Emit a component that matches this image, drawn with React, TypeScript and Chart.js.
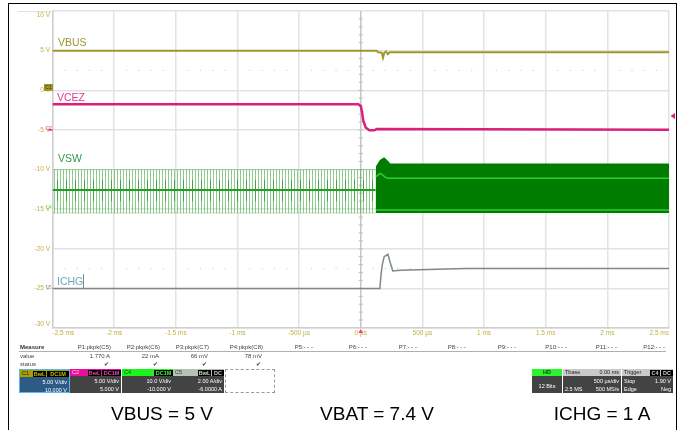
import React, { useEffect, useRef } from 'react';
import { Chart, registerables } from 'chart.js';

Chart.register(...registerables);

const FF = '"Liberation Sans", Arial, sans-serif';

// ---- tick labels ----
const xTickLabels = ['-2.5 ms', '-2 ms', '-1.5 ms', '-1 ms', '-500 µs', '0 µs', '500 µs', '1 ms', '1.5 ms', '2 ms', '2.5 ms'];
const yTickLabels = ['-30 V', '-25 V', '-20 V', '-15 V', '-10 V', '-5 V', '0 V', '5 V', '10 V'];

// ---- traces (time in ms, value in screen volts) ----
const vbusTime = [-2.5, 0.13, 0.14, 0.17, 0.18, 0.19, 0.205, 0.22, 0.235, 2.5];
const vbusValues = [5.0, 5.0, 4.8, 4.75, 4.1, 4.7, 4.9, 4.55, 4.8, 4.8];

const vcezTime = [-2.5, -0.02, 0.0, 0.01, 0.02, 0.04, 0.07, 0.11, 0.13, 2.5];
const vcezValues = [-1.77, -1.77, -2.0, -2.7, -3.8, -4.7, -5.05, -5.05, -4.9, -4.98];

const ichgTime = [-2.5, 0.155, 0.165, 0.175, 0.19, 0.22, 0.24, 0.26, 0.32, 0.85, 2.5];
const ichgValues = [-25.0, -25.0, -23.2, -22.0, -21.0, -20.7, -21.8, -22.8, -22.7, -22.5, -22.5];

// VSW before the burst: switching envelope, core and baseline
const vswPreTime = [-2.5, 0.12];
const vswPreHigh = [-10.0, -10.0];
const vswPreLow = [-15.5, -15.5];
const vswPreCoreHigh = [-11.3, -11.3];
const vswPreCoreLow = [-14.0, -14.0];
const vswPreBase = [-12.6, -12.6];

// VSW burst envelope
const vswBurstTime = [0.123, 0.155, 0.19, 0.22, 0.24, 2.5];
const vswBurstHigh = [-9.6, -8.8, -8.45, -8.9, -9.25, -9.25];
const vswBurstLow = [-15.5, -15.5, -15.5, -15.5, -15.5, -15.5];
const vswMidTime = [0.123, 0.14, 0.155, 0.17, 0.2, 0.22, 2.5];
const vswMidValues = [-10.9, -10.7, -10.5, -10.6, -11.0, -11.1, -11.1];
const vswFloorTime = [0.123, 2.5];
const vswFloorValues = [-15.1, -15.1];

const pts = (t: number[], v: number[]) => t.map((x, i) => ({ x, y: v[i] }));

const TICK = '#c0b040';
const GRID = '#e2e2e2';

const extras = {
  id: 'extras',
  beforeDatasetsDraw(chart: any) {
    const { ctx, scales, chartArea: a } = chart;
    const x = scales.x, y = scales.y;
    ctx.save();
    ctx.fillStyle = '#d2d2d2';
    for (const lv of [2.5, -22.5]) {
      const py = y.getPixelForValue(lv);
      for (let k = -24; k <= 24; k++) {
        if (k % 5 === 0) continue;
        const px = x.getPixelForValue(k / 10);
        ctx.fillRect(px - 0.6, py - 0.6, 1.2, 1.2);
      }
    }
    const cx = x.getPixelForValue(0);
    ctx.strokeStyle = '#bcbcbc';
    ctx.lineWidth = 1;
    ctx.beginPath();
    ctx.moveTo(cx, a.top);
    ctx.lineTo(cx, a.bottom);
    for (let v = -29; v <= 9; v++) {
      const py = y.getPixelForValue(v);
      ctx.moveTo(cx - 2, py);
      ctx.lineTo(cx + 2, py);
    }
    ctx.stroke();
    ctx.restore();
  },
  afterDraw(chart: any) {
    const { ctx, scales, chartArea: a } = chart;
    const x = scales.x, y = scales.y;
    ctx.save();
    // right-side level marker
    const ry = y.getPixelForValue(-3.25);
    ctx.fillStyle = '#e0207f';
    ctx.beginPath();
    ctx.moveTo(a.right + 1.5, ry);
    ctx.lineTo(a.right + 6, ry - 3);
    ctx.lineTo(a.right + 6, ry + 3);
    ctx.closePath();
    ctx.fill();
    // trigger marker
    const cx = x.getPixelForValue(0);
    ctx.fillStyle = '#ff3d7a';
    ctx.beginPath();
    ctx.moveTo(cx, a.bottom + 1);
    ctx.lineTo(cx - 2.5, a.bottom + 5);
    ctx.lineTo(cx + 2.5, a.bottom + 5);
    ctx.closePath();
    ctx.fill();
    // C2 offset tick
    const c2y = y.getPixelForValue(-5);
    ctx.strokeStyle = '#e0207f';
    ctx.lineWidth = 1.5;
    ctx.beginPath();
    ctx.moveTo(a.left - 4, c2y);
    ctx.lineTo(a.left, c2y);
    ctx.stroke();
    ctx.restore();
  },
};

type TP = { x: number; y: number; s: number; c?: string; a?: 'l' | 'r' | 'c'; b?: boolean; children: React.ReactNode };
const Txt = ({ x, y, s, c = '#333', a = 'l', b, children }: TP) => {
  const L = Math.round(s * 1.3);
  const style: React.CSSProperties = {
    position: 'absolute', top: y - L / 2, lineHeight: L + 'px', height: L, fontSize: s, color: c,
    fontWeight: b ? 'bold' : 'normal', whiteSpace: 'nowrap', fontFamily: FF,
  };
  if (a === 'l') style.left = x;
  else if (a === 'r') style.right = 684 - x;
  else { style.left = x; style.transform = 'translateX(-50%)'; }
  return <div style={style}>{children}</div>;
};

const Tag = ({ t, c, w }: { t: string; c: string; w: number }) => (
  <span style={{ background: '#000', color: c, width: w, marginLeft: 1, height: 6, lineHeight: '6px', fontSize: 5.5, display: 'inline-block', textAlign: 'center', fontWeight: 'bold' }}>{t}</span>
);

type BP = { x: number; w: number; name: string; strip: string; nameColor: string; tags: [string, number][]; tagColor: string; l1: string; l2: string; lower: string; border?: string };
const ChBox = ({ x, w, name, strip, nameColor, tags, tagColor, l1, l2, lower, border }: BP) => (
  <div style={{ position: 'absolute', left: x, top: 369, width: w, height: 24, boxSizing: 'border-box', border: border ? '1px solid ' + border : 'none', background: lower, fontFamily: FF }}>
    <div style={{ position: 'absolute', left: 0, top: 0, right: 0, height: 7, background: strip }}>
      <span style={{ position: 'absolute', left: 2, top: 0, fontSize: 5.5, lineHeight: '7px', color: nameColor }}>{name}</span>
      <div style={{ position: 'absolute', right: 0, top: 0.5, display: 'flex' }}>
        {tags.map(([t, tw]) => <Tag key={t} t={t} c={tagColor} w={tw} />)}
      </div>
    </div>
    <div style={{ position: 'absolute', right: 2, top: 9, fontSize: 5.5, lineHeight: '7px', color: '#fff', whiteSpace: 'nowrap' }}>{l1}</div>
    <div style={{ position: 'absolute', right: 2, top: 16.5, fontSize: 5.5, lineHeight: '7px', color: '#fff', whiteSpace: 'nowrap' }}>{l2}</div>
  </div>
);

const measHeads = ['P1:pkpk(C5)', 'P2:pkpk(C6)', 'P3:pkpk(C7)', 'P4:pkpk(C8)', 'P5:- - -', 'P6:- - -', 'P7:- - -', 'P8:- - -', 'P9:- - -', 'P10:- - -', 'P11:- - -', 'P12:- - -'];
const measValues = ['1.770 A', '22 mA', '66 mV', '78 mV'];
const measRight = [111, 160, 209, 263, 313, 367, 417, 466, 516, 567, 617, 665];

export default function App() {
  const ref = useRef<HTMLCanvasElement>(null);
  useEffect(() => {
    const canvas = ref.current!;
    const mainCtx = canvas.getContext('2d')!;
    const mkPattern = (xs: number[], color: string) => {
      const c = document.createElement('canvas');
      c.width = 18; c.height = 2;
      const g = c.getContext('2d')!;
      g.fillStyle = color;
      xs.forEach((px) => g.fillRect(px, 0, 1, 2));
      return mainCtx.createPattern(c, 'repeat')!;
    };
    const preStripes = mkPattern([0, 3, 6, 9, 12, 15], 'rgba(60,172,60,0.6)');
    const coreStripes = mkPattern([3, 12], 'rgba(20,125,20,0.55)');

    const line = (label: string, t: number[], v: number[], color: string, w: number) => ({
      label, data: pts(t, v), borderColor: color, borderWidth: w, pointRadius: 0, fill: false, tension: 0,
    });
    const band = (label: string, t: number[], v: number[], bg?: any, edge?: string) => ({
      label, data: pts(t, v), borderColor: edge || 'rgba(0,0,0,0)', borderWidth: edge ? 1 : 0, pointRadius: 0,
      fill: bg ? '+1' : false, backgroundColor: bg || 'rgba(0,0,0,0)', tension: 0,
    });
    const EDGE = 'rgba(60,172,60,0.35)';

    const datasets: any[] = [
      line('VBUS', vbusTime, vbusValues, '#9d9a2a', 2),
      line('VCEZ', vcezTime, vcezValues, '#dc1f7c', 2.5),
      line('ICHG', ichgTime, ichgValues, '#7e8c7e', 1.5),
      line('VSW mid', vswMidTime, vswMidValues, '#2ecc2e', 1.5),
      line('VSW floor', vswFloorTime, vswFloorValues, '#2ecc2e', 1.5),
      line('VSW base', vswPreTime, vswPreBase, '#1f9f1f', 2),
      band('VSW burst high', vswBurstTime, vswBurstHigh, '#007d00'),
      band('VSW burst low', vswBurstTime, vswBurstLow),
      band('VSW core high', vswPreTime, vswPreCoreHigh, coreStripes),
      band('VSW core low', vswPreTime, vswPreCoreLow),
      band('VSW pre high', vswPreTime, vswPreHigh, preStripes, EDGE),
      band('VSW pre low', vswPreTime, vswPreLow, undefined, EDGE),
    ];

    const chart = new Chart(canvas, {
      type: 'line',
      data: { datasets },
      options: {
        animation: false,
        responsive: false,
        events: [],
        layout: { padding: { left: 10, top: 11, right: 15, bottom: 86 } },
        plugins: { legend: { display: false }, tooltip: { enabled: false } },
        scales: {
          x: {
            type: 'linear', min: -2.5, max: 2.5,
            afterFit: (s: any) => { s.height = 16; },
            ticks: {
              stepSize: 0.5, autoSkip: false, maxRotation: 0, align: 'inner', padding: 1.5,
              color: TICK, font: { size: 6.5, family: FF },
              callback: (_v: any, i: number) => xTickLabels[i],
            },
            grid: { color: GRID, lineWidth: 1.5, drawTicks: false },
            border: { color: '#cfcfcf', width: 1.5 },
          },
          y: {
            type: 'linear', min: -30, max: 10,
            afterFit: (s: any) => { s.width = 42.5; },
            ticks: {
              stepSize: 5, autoSkip: false, padding: 2.5,
              color: TICK, font: { size: 6.5, family: FF },
              callback: (_v: any, i: number) =>
                i === 0 ? [yTickLabels[i], ''] : i === yTickLabels.length - 1 ? ['', yTickLabels[i]] : yTickLabels[i],
            },
            grid: { color: GRID, lineWidth: 1.5, drawTicks: false },
            border: { color: '#cfcfcf', width: 1.5 },
          },
        },
      } as any,
      plugins: [extras as any],
    });
    return () => chart.destroy();
  }, []);

  return (
    <div style={{ position: 'fixed', left: 0, top: 0, width: 684, height: 430, background: '#fff', overflow: 'hidden', fontFamily: FF }}>
      <canvas ref={ref} width={684} height={430} style={{ position: 'absolute', left: 0, top: 0, width: 684, height: 430 }} />
      {/* outer frame */}
      <div style={{ position: 'absolute', left: 8, top: 2.5, width: 668.5, height: 440, border: '1.5px solid #000', boxSizing: 'border-box' }} />
      <div style={{ position: 'absolute', left: 18, top: 10.5, width: 35, height: 1, background: '#e0e0e0' }} />

      {/* trace labels */}
      <Txt x={58} y={42} s={10.5} c="#9b962c">VBUS</Txt>
      <Txt x={57} y={97} s={10.5} c="#e8338f">VCEZ</Txt>
      <Txt x={58} y={158} s={10.5} c="#2e9a4e">VSW</Txt>
      <Txt x={57} y={281} s={10.5} c="#6aa6c4">ICHG</Txt>
      <div style={{ position: 'absolute', left: 83, top: 274, width: 1, height: 14, background: '#888' }} />

      {/* channel markers */}
      <div style={{ position: 'absolute', left: 44, top: 84, width: 9, height: 7, background: '#9c9a20', fontSize: 5, lineHeight: '7px', color: '#333', textAlign: 'center' }}>C1</div>
      <Txt x={45.5} y={128} s={5} c="#e8338f">C2</Txt>
      <Txt x={45.5} y={207} s={5} c="#55dd55">C4</Txt>
      <Txt x={45.5} y={287} s={5} c="#99a0a0">C5</Txt>

      {/* measure table */}
      <Txt x={20} y={347} s={6} c="#333" b>Measure</Txt>
      {measHeads.map((h, i) => <Txt key={h} x={measRight[i]} y={347} s={6} c="#444" a="r">{h}</Txt>)}
      <div style={{ position: 'absolute', left: 19, top: 351, width: 647, height: 1, background: '#b0b0b0' }} />
      <Txt x={20} y={356} s={6} c="#444">value</Txt>
      {measValues.map((v, i) => <Txt key={v} x={measRight[i] - 1} y={356} s={6} c="#444" a="r">{v}</Txt>)}
      <Txt x={20} y={364} s={6} c="#444">status</Txt>
      {measValues.map((v, i) => <Txt key={'s' + v} x={measRight[i] - 2} y={364} s={6} c="#333" a="r">✔</Txt>)}

      {/* channel boxes */}
      <ChBox x={19} w={51} name="C1" strip="#a8a000" nameColor="#222" tags={[['BwL', 13], ['DC1M', 22]]} tagColor="#c8bc00" l1="5.00 V/div" l2="10.000 V" lower="#2d5b86" border="#5ab4f5" />
      <ChBox x={70} w={51} name="C2" strip="#e8109a" nameColor="#ffd0ea" tags={[['BwL', 13], ['DC1M', 19]]} tagColor="#f040a8" l1="5.00 V/div" l2="5.000 V" lower="#434343" />
      <ChBox x={122} w={51} name="C4" strip="#1cf51c" nameColor="#114411" tags={[['DC1M', 19]]} tagColor="#33ff33" l1="10.0 V/div" l2="-10.000 V" lower="#434343" />
      <ChBox x={173} w={51} name="C5" strip="#b4c2b4" nameColor="#333" tags={[['BwL', 13], ['DC', 12]]} tagColor="#d0d8d0" l1="2.00 A/div" l2="-6.0000 A" lower="#434343" />
      <div style={{ position: 'absolute', left: 225, top: 369, width: 50, height: 24, border: '1px dashed #999', boxSizing: 'border-box' }} />

      {/* HD box */}
      <div style={{ position: 'absolute', left: 532, top: 369, width: 30, height: 24, background: '#434343' }}>
        <div style={{ position: 'absolute', left: 0, top: 0, right: 0, height: 7, background: '#2df52d', fontSize: 5.5, lineHeight: '7px', fontWeight: 'bold', textAlign: 'center', color: '#113311' }}>HD</div>
        <div style={{ position: 'absolute', left: 0, right: 0, top: 13.5, fontSize: 5.5, lineHeight: '7px', textAlign: 'center', color: '#fff' }}>12 Bits</div>
      </div>
      {/* Tbase box */}
      <div style={{ position: 'absolute', left: 563, top: 369, width: 58, height: 24, background: '#434343', fontSize: 5.5, lineHeight: '7px' }}>
        <div style={{ position: 'absolute', left: 0, top: 0, right: 0, height: 7, background: '#c9c9c9' }}>
          <span style={{ position: 'absolute', left: 2, color: '#222' }}>Tbase</span>
          <span style={{ position: 'absolute', right: 2, color: '#222' }}>0.00 ms</span>
        </div>
        <span style={{ position: 'absolute', right: 2, top: 9, color: '#fff', whiteSpace: 'nowrap' }}>500 µs/div</span>
        <span style={{ position: 'absolute', left: 2, top: 16.5, color: '#fff', whiteSpace: 'nowrap' }}>2.5 MS</span>
        <span style={{ position: 'absolute', right: 2, top: 16.5, color: '#fff', whiteSpace: 'nowrap' }}>500 MS/s</span>
      </div>
      {/* Trigger box */}
      <div style={{ position: 'absolute', left: 622, top: 369, width: 51, height: 24, background: '#434343', fontSize: 5.5, lineHeight: '7px' }}>
        <div style={{ position: 'absolute', left: 0, top: 0, right: 0, height: 7, background: '#c9c9c9' }}>
          <span style={{ position: 'absolute', left: 2, color: '#222' }}>Trigger</span>
          <div style={{ position: 'absolute', right: 0, top: 0.5, display: 'flex' }}>
            <Tag t="C4" c="#cccccc" w={10} />
            <Tag t="DC" c="#cccccc" w={12} />
          </div>
        </div>
        <span style={{ position: 'absolute', left: 2, top: 9, color: '#fff' }}>Stop</span>
        <span style={{ position: 'absolute', right: 2, top: 9, color: '#fff', whiteSpace: 'nowrap' }}>1.90 V</span>
        <span style={{ position: 'absolute', left: 2, top: 16.5, color: '#fff' }}>Edge</span>
        <span style={{ position: 'absolute', right: 2, top: 16.5, color: '#fff' }}>Neg</span>
      </div>

      {/* bottom captions */}
      <div style={{ position: 'absolute', left: 162, top: 403.5, transform: 'translateX(-50%)', fontSize: 19, lineHeight: '19px', whiteSpace: 'nowrap', color: '#000' }}>VBUS = 5 V</div>
      <div style={{ position: 'absolute', left: 377, top: 403.5, transform: 'translateX(-50%)', fontSize: 19, lineHeight: '19px', whiteSpace: 'nowrap', color: '#000' }}>VBAT = 7.4 V</div>
      <div style={{ position: 'absolute', left: 602, top: 403.5, transform: 'translateX(-50%)', fontSize: 19, lineHeight: '19px', whiteSpace: 'nowrap', color: '#000' }}>ICHG = 1 A</div>
    </div>
  );
}
